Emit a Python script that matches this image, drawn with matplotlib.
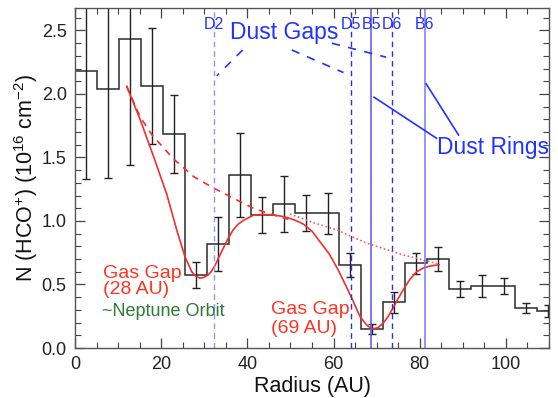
import numpy as np
import matplotlib
matplotlib.use("Agg")
import matplotlib.pyplot as plt
from matplotlib.ticker import MultipleLocator, FormatStrFormatter

plt.rcParams['font.family'] = ['Liberation Sans', 'DejaVu Sans']
plt.rcParams['mathtext.default'] = 'regular'

# HCO+ column density profile (binned)
radius = [2.55, 7.65, 12.75, 17.85, 22.95, 28.05, 33.15, 38.25, 43.35, 48.45, 53.55,
          58.65, 63.75, 68.85, 73.95, 79.05, 84.15, 89.25, 94.35, 99.45, 104.55, 109.65]
column = [2.18, 2.04, 2.43, 2.06, 1.685, 0.575, 0.82, 1.36, 1.047, 1.13, 1.06,
          1.06, 0.654, 0.147, 0.36, 0.667, 0.70, 0.462, 0.49, 0.49, 0.312, 0.294]
column_err = [0.85, 0.70, 0.99, 0.455, 0.305, 0.10, 0.214, 0.33, 0.143, 0.22, 0.142,
              0.16, 0.097, 0.039, 0.081, 0.083, 0.097, 0.064, 0.088, 0.062, 0.039, 0.047]
bin_width = 5.1

# model with gas gaps
model_r = [12.0, 15.1, 18.2, 21.3, 23.6, 25.5, 26.3, 27.1, 28.0, 29.0, 29.9, 30.9, 31.7,
           32.5, 33.4, 34.4, 35.5, 36.7, 37.9, 39.1, 41.4, 43.5, 46.0, 48.0, 49.9, 51.5,
           53.0, 55.0, 57.0, 59.0, 61.0, 63.0, 64.6, 66.1, 67.7, 69.0, 70.3, 71.5, 72.7,
           73.9, 75.0, 76.2, 77.7, 79.3, 80.8, 82.4, 84.5]
model_n = [2.06, 1.80, 1.51, 1.21, 0.93, 0.72, 0.66, 0.60, 0.565, 0.55, 0.556, 0.575, 0.605,
           0.65, 0.715, 0.785, 0.86, 0.93, 0.975, 1.005, 1.045, 1.052, 1.047, 1.037, 1.02, 1.0,
           0.975, 0.92, 0.83, 0.74, 0.62, 0.48, 0.365, 0.25, 0.18, 0.15, 0.16, 0.195, 0.25,
           0.32, 0.39, 0.46, 0.54, 0.60, 0.63, 0.645, 0.655]

# smooth baseline (no gaps)
base_in_r = [12.0, 15.1, 17.8, 22.8, 27.5, 32.1, 36.7, 41.4, 45.3, 49.5]
base_in_n = [2.06, 1.82, 1.68, 1.49, 1.35, 1.26, 1.18, 1.10, 1.055, 1.013]
base_out_r = [49.9, 55.0, 60.7, 67.8, 76.2, 80.1, 84.4]
base_out_n = [1.055, 0.99, 0.93, 0.824, 0.732, 0.70, 0.66]

# dust features (AU)
dust_names = ['D2', 'D5', 'B5', 'D6', 'B6']
dust_radius = [32.3, 64.05, 68.7, 73.6, 81.2]
dust_style = ['--', '--', '-', '--', '-']
dust_color = ['#9090ff', '#3030d0', '#5555ee', '#3030e0', '#7878ff']

fig = plt.figure(figsize=(5.58, 3.98), dpi=100)
ax = fig.add_axes([0.1344, 0.1256, 0.8495, 0.8555])

edges = np.append(np.array(radius) - bin_width / 2, radius[-1] + bin_width / 2)
ax.stairs(column, edges, color='#333333', lw=1.15, baseline=None)
ax.errorbar(radius, column, yerr=column_err, fmt='none', ecolor='#222222',
            elinewidth=1.0, capsize=2.8, capthick=1.0)

ax.plot(model_r, model_n, color='#f03030', lw=1.2)
ax.plot(base_in_r, base_in_n, color='#f03030', lw=1.2, ls=(0, (4, 3.5)))
ax.plot(base_out_r, base_out_n, color='#f06060', lw=1.2, ls=(0, (1, 1.5)))

for name, r, ls, c in zip(dust_names, dust_radius, dust_style, dust_color):
    if ls == '--':
        ax.axvline(r, color=c, ls=(0, (4, 3)), lw=1.0)
    else:
        ax.axvline(r, color=c, ls=ls, lw=1.1)
    ax.text(r, 2.55, name, color='#2233ff', fontsize=11.5, ha='center', va='center')

# annotations
blue = '#2233ff'
ax.text(36.0, 2.48, 'Dust Gaps', color=blue, fontsize=16.5, va='center')
ax.text(83.9, 1.577, 'Dust Rings', color=blue, fontsize=16.5, va='center')
for (x0, y0), (x1, y1) in [((38.9, 2.346), (32.9, 2.142)),
                           ((50.3, 2.346), (62.3, 2.168)),
                           ((59.6, 2.399), (72.2, 2.289))]:
    ax.plot([x0, x1], [y0, y1], color=blue, lw=1.2, ls=(0, (5, 5)))
for (x0, y0), (x1, y1) in [((69.4, 1.974), (83.9, 1.651)),
                           ((81.5, 2.079), (89.0, 1.677))]:
    ax.plot([x0, x1], [y0, y1], color=blue, lw=1.2)

red = '#ff3322'
ax.text(6.4, 0.59, 'Gas Gap', color=red, fontsize=14, va='center')
ax.text(6.4, 0.457, '(28 AU)', color=red, fontsize=14, va='center')
ax.text(6.3, 0.29, '~Neptune Orbit', color='#2f7a34', fontsize=13, va='center')
ax.text(45.6, 0.30, 'Gas Gap', color=red, fontsize=14, va='center')
ax.text(45.6, 0.157, '(69 AU)', color=red, fontsize=14, va='center')

ax.set_xlim(0, 110)
ax.set_ylim(0, 2.68)
ax.xaxis.set_major_locator(MultipleLocator(20))
ax.xaxis.set_minor_locator(MultipleLocator(5))
ax.yaxis.set_major_locator(MultipleLocator(0.5))
ax.yaxis.set_minor_locator(MultipleLocator(0.1))
ax.yaxis.set_major_formatter(FormatStrFormatter('%.1f'))
ax.tick_params(which='both', direction='in', top=True, right=True, color='#444444',
               labelsize=13, labelcolor='#222222')
ax.tick_params(which='major', length=7, width=0.9, pad=6)
ax.tick_params(which='minor', length=4, width=0.8)
for s in ax.spines.values():
    s.set_color('#555555')
    s.set_linewidth(1.0)

ax.set_xlabel('Radius (AU)', fontsize=15.5, color='#111111', labelpad=2)
ax.set_ylabel(r'N (HCO$^{+}$) (10$^{16}$ cm$^{-2}$)', fontsize=15.5, color='#111111', labelpad=1)

fig.savefig('out.png', dpi=100)
